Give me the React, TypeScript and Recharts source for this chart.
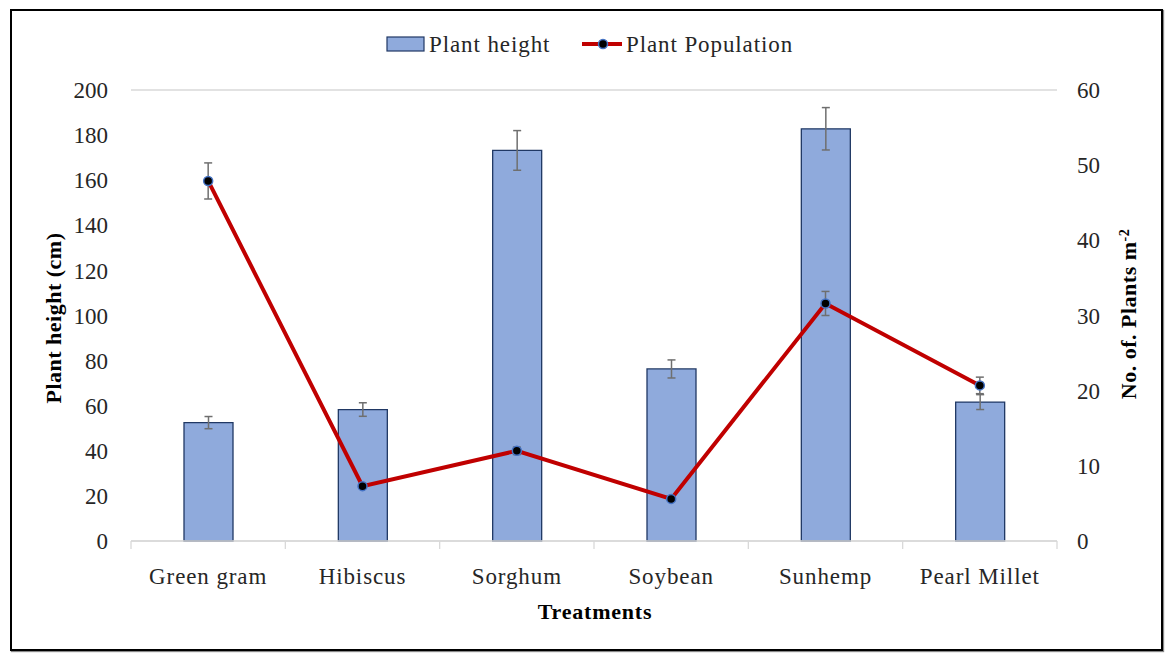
import React from 'react';
import { ComposedChart, Bar, Line, XAxis, YAxis, CartesianGrid, ErrorBar } from 'recharts';

const categories = ['Green gram', 'Hibiscus', 'Sorghum', 'Soybean', 'Sunhemp', 'Pearl Millet'];
const plantHeight = [52.5, 58.3, 173.2, 76.3, 182.8, 61.6];
const heightErr = [2.7, 3.0, 8.8, 4.0, 9.4, 3.3];
const plantPopulation = [47.9, 7.3, 12.0, 5.6, 31.6, 20.7];
const populationErr = [2.4, 0.3, 0.5, 0.3, 1.6, 1.1];
const leftTicks = [0, 20, 40, 60, 80, 100, 120, 140, 160, 180, 200];
const rightTicks = [0, 10, 20, 30, 40, 50, 60];

const data = categories.map((name, i) => ({
  name,
  height: plantHeight[i],
  heightErr: heightErr[i],
  population: plantPopulation[i],
  populationErr: populationErr[i],
}));

const W = 1176;
const H = 661;
const PLOT_LEFT = 131;
const PLOT_RIGHT = 1057;
const PLOT_TOP = 90;
const PLOT_BOTTOM = 541;
const HALF_BAND = (PLOT_RIGHT - PLOT_LEFT) / categories.length / 2;

const FONT = '"Liberation Serif", "Times New Roman", serif';
const TEXT = '#262626';
const BAR_FILL = '#8FAADC';
const BAR_EDGE = '#203864';

const CategoryTick = (props: any) => {
  const { x, payload, index } = props;
  return (
    <g>
      <line x1={x - HALF_BAND} y1={PLOT_BOTTOM} x2={x - HALF_BAND} y2={PLOT_BOTTOM + 8} stroke="#d9d9d9" strokeWidth={1.3} />
      {index === categories.length - 1 && (
        <line x1={x + HALF_BAND} y1={PLOT_BOTTOM} x2={x + HALF_BAND} y2={PLOT_BOTTOM + 8} stroke="#d9d9d9" strokeWidth={1.3} />
      )}
      <text x={x} y={584} textAnchor="middle" fontFamily={FONT} fontSize={23} letterSpacing={0.9} fill={TEXT}>
        {payload.value}
      </text>
    </g>
  );
};

const XTitle = () => (
  <text x={595} y={619} textAnchor="middle" fontFamily={FONT} fontSize={22} fontWeight="bold" letterSpacing={0.8} fill="#000">
    Treatments
  </text>
);

const LeftTitle = () => (
  <text
    x={0}
    y={0}
    transform={`translate(61, 318) rotate(-90)`}
    textAnchor="middle"
    fontFamily={FONT}
    fontSize={22}
    fontWeight="bold"
    letterSpacing={0.5}
    fill="#000"
  >
    Plant height (cm)
  </text>
);

const RightTitle = () => (
  <text
    x={0}
    y={0}
    transform={`translate(1136, 314) rotate(-90)`}
    textAnchor="middle"
    fontFamily={FONT}
    fontSize={22}
    fontWeight="bold"
    letterSpacing={0.5}
    fill="#000"
  >
    No. of. Plants m<tspan baseline-shift="super" fontSize={14}>-2</tspan>
  </text>
);

const LegendBox = () => (
  <svg width={W} height={70} style={{ position: 'absolute', left: 0, top: 0 }}>
    <rect x={387} y={37} width={37} height={14} fill={BAR_FILL} stroke={BAR_EDGE} strokeWidth={1.2} />
    <text x={429} y={52} fontFamily={FONT} fontSize={23} letterSpacing={0.9} fill={TEXT}>
      Plant height
    </text>
    <line x1={582} y1={44} x2={622} y2={44} stroke="#C00000" strokeWidth={4} />
    <circle cx={603} cy={44} r={4.5} fill="#000" stroke="#4472C4" strokeWidth={1.5} />
    <text x={626} y={52} fontFamily={FONT} fontSize={23} letterSpacing={0.9} fill={TEXT}>
      Plant Population
    </text>
  </svg>
);

const App = () => {
  return (
    <div style={{ position: 'absolute', left: 0, top: 0, width: W, height: H, background: '#fff' }}>
      <ComposedChart
        width={W}
        height={H}
        data={data}
        margin={{ top: PLOT_TOP, right: 0, left: 0, bottom: 0 }}
      >
        <CartesianGrid vertical={false} stroke="#d9d9d9" strokeWidth={1.3} />
        <XAxis
          dataKey="name"
          height={H - PLOT_BOTTOM}
          tickLine={false}
          axisLine={{ stroke: '#d9d9d9', strokeWidth: 1.3 }}
          tick={<CategoryTick />}
          interval={0}
          label={<XTitle />}
        />
        <YAxis
          yAxisId="left"
          width={PLOT_LEFT}
          domain={[0, 200]}
          ticks={leftTicks}
          interval={0}
          axisLine={false}
          tickLine={false}
          tickSize={0}
          tickMargin={23}
          tick={{ fontFamily: FONT, fontSize: 23, fill: TEXT }}
          label={<LeftTitle />}
        />
        <YAxis
          yAxisId="right"
          orientation="right"
          width={W - PLOT_RIGHT}
          domain={[0, 60]}
          ticks={rightTicks}
          interval={0}
          axisLine={false}
          tickLine={false}
          tickSize={0}
          tickMargin={20}
          tick={{ fontFamily: FONT, fontSize: 23, fill: TEXT, textAnchor: 'start' }}
          label={<RightTitle />}
        />
        <Bar
          yAxisId="left"
          dataKey="height"
          barSize={49}
          fill={BAR_FILL}
          stroke={BAR_EDGE}
          strokeWidth={1.3}
          isAnimationActive={false}
        >
          <ErrorBar dataKey="heightErr" width={4} stroke="#6f6f6f" strokeWidth={1.5} direction="y" />
        </Bar>
        <Line
          yAxisId="right"
          dataKey="population"
          stroke="#C00000"
          strokeWidth={4}
          dot={{ r: 4.5, fill: '#000', stroke: '#4472C4', strokeWidth: 1.5 }}
          activeDot={false}
          isAnimationActive={false}
        >
          <ErrorBar dataKey="populationErr" width={4} stroke="#6f6f6f" strokeWidth={1.5} direction="y" />
        </Line>
      </ComposedChart>
      <LegendBox />
      <div
        style={{
          position: 'absolute',
          left: 10,
          top: 9,
          width: 1153,
          height: 642,
          border: '2px solid #000',
          boxSizing: 'border-box',
          boxShadow: '1px 1px 1px #888',
          pointerEvents: 'none',
        }}
      />
    </div>
  );
};

export default App;
